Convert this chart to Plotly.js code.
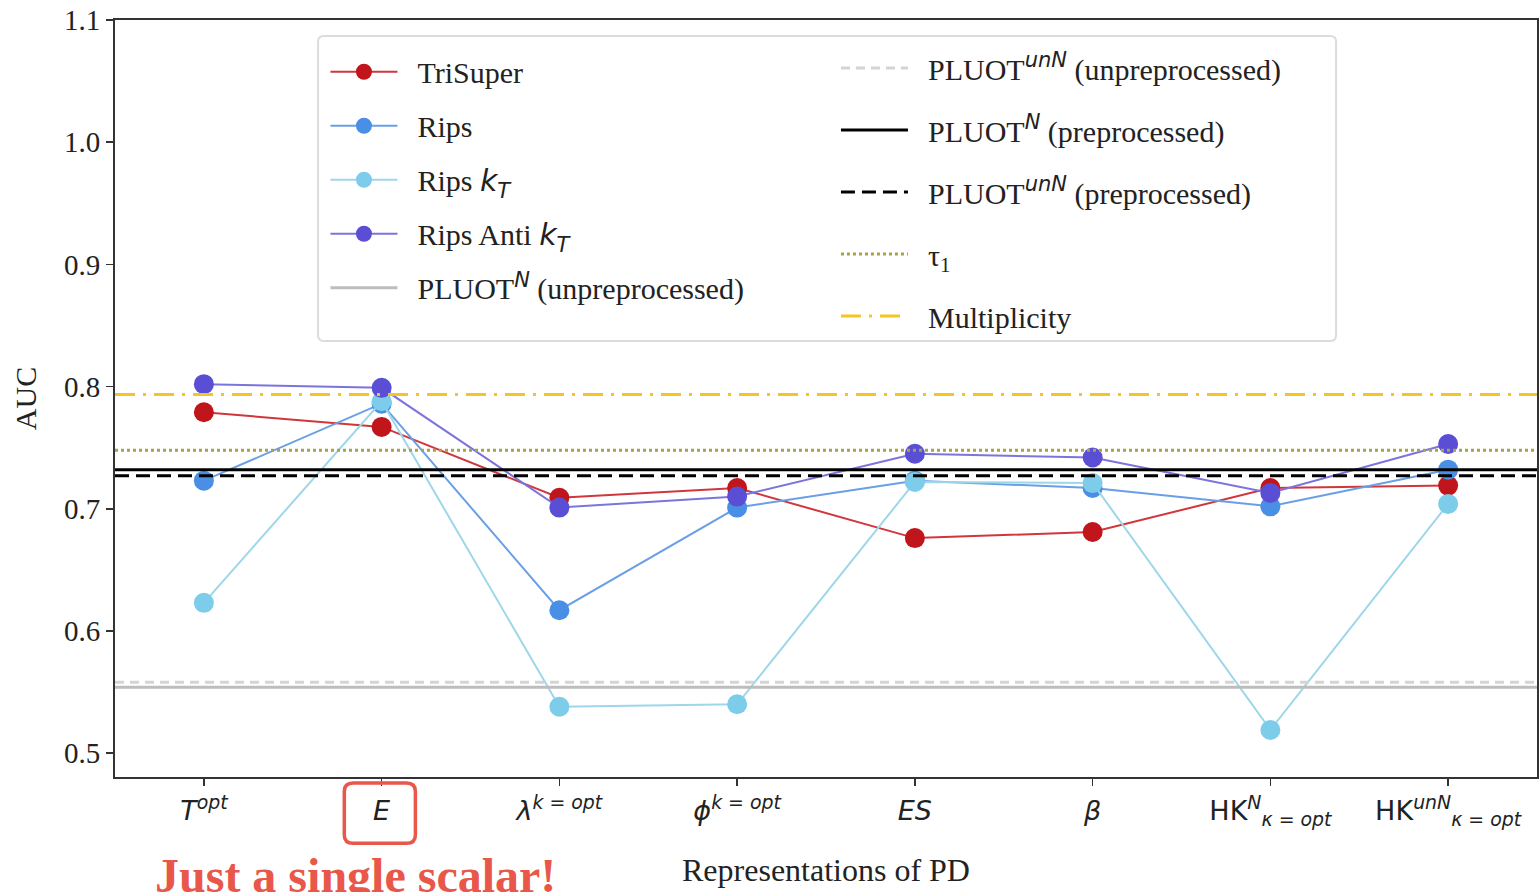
<!DOCTYPE html>
<html>
<head>
<meta charset="utf-8">
<script src="https://cdn.plot.ly/plotly-3.0.1.min.js"></script>
<style>html,body{margin:0;padding:0;background:#fff;}#chart{width:1540px;height:892px;}</style>
</head>
<body>
<div id="chart"></div>
<script>
var SANS = "DejaVu Sans";
var SERIF = "Liberation Serif";
function it(s){return "<span style='font-family:" + SANS + "'><i>" + s + "</i></span>";}
var GAP = "\u2002";

// Categories (representations of PD)
var categories = [
  it("T") + "<sup>" + it("opt") + "</sup>",
  it("E"),
  it("λ") + "<sup>" + it("k = opt") + "</sup>",
  it("ϕ") + "<sup>" + it("k = opt") + "</sup>",
  it("ES"),
  it("β"),
  "HK<sup>" + it("N") + "</sup><sub>" + it("κ = opt") + "</sub>",
  "HK<sup>" + it("unN") + "</sup><sub>" + it("κ = opt") + "</sub>"
];

// Series values (AUC)
var triSuper = [0.779, 0.767, 0.709, 0.717, 0.676, 0.681, 0.717, 0.719];
var rips     = [0.723, 0.786, 0.617, 0.701, 0.723, 0.717, 0.702, 0.732];
var ripsKT   = [0.623, 0.788, 0.538, 0.540, 0.722, 0.721, 0.519, 0.704];
var ripsAnti = [0.802, 0.799, 0.701, 0.710, 0.745, 0.742, 0.713, 0.753];

// Reference (horizontal) levels
var pluotN_unpre   = 0.554;
var pluotUnN_unpre = 0.558;
var pluotN_pre     = 0.732;
var pluotUnN_pre   = 0.727;
var tau1           = 0.748;
var multiplicity   = 0.7935;

var yTicks = [0.5, 0.6, 0.7, 0.8, 0.9, 1.0, 1.1];

var span = [-0.5, categories.length - 0.5];

function series(name, y, mcol, lcol){
  return {type:"scatter", mode:"lines+markers", name:GAP + name, x:categories, y:y,
    legend:"legend", legendgroup:name,
    line:{color:lcol, width:2}, marker:{color:mcol, size:20},
    cliponaxis:false};
}
function hline(name, v, col, w, dash, leg){
  return {type:"scatter", mode:"lines", name:GAP + name, xaxis:"x2", x:span, y:[v, v],
    legend:leg, legendgroup:name, line:{color:col, width:w, dash:dash}, hoverinfo:"skip"};
}

var data = [
  series("TriSuper", triSuper, "#c1151c", "#d0363b"),
  series("Rips", rips, "#4a8fe6", "#6a9fe6"),
  series("Rips " + it("k") + "<sub>" + it("T") + "</sub>", ripsKT, "#7dcdea", "#9ed6ea"),
  series("Rips Anti " + it("k") + "<sub>" + it("T") + "</sub>", ripsAnti, "#5a4fd4", "#7c74de"),
  hline("PLUOT<sup>" + it("N") + "</sup> (unpreprocessed)", pluotN_unpre, "#bdbdbd", 3, "solid", "legend"),
  hline("PLUOT<sup>" + it("unN") + "</sup> (unpreprocessed)", pluotUnN_unpre, "#d4d4d4", 3, "9px,6px", "legend2"),
  hline("PLUOT<sup>" + it("N") + "</sup> (preprocessed)", pluotN_pre, "#000000", 3, "solid", "legend2"),
  hline("PLUOT<sup>" + it("unN") + "</sup> (preprocessed)", pluotUnN_pre, "#000000", 3, "14px,7px", "legend2"),
  hline("τ<sub>1</sub>", tau1, "#a8a248", 3, "dot", "legend2"),
  hline("Multiplicity", multiplicity, "#f5c623", 3, "20px,8px,3px,8px", "legend2")
];

// rounded box around the "E" tick label (category index 1)
var bx0 = 0.79, bx1 = 1.19, by0 = -0.0875, by1 = -0.008, rx = 0.05, ry = 0.011;
var boxPath = "M" + (bx0+rx) + "," + by1 + " L" + (bx1-rx) + "," + by1 +
  " Q" + bx1 + "," + by1 + " " + bx1 + "," + (by1-ry) +
  " L" + bx1 + "," + (by0+ry) + " Q" + bx1 + "," + by0 + " " + (bx1-rx) + "," + by0 +
  " L" + (bx0+rx) + "," + by0 + " Q" + bx0 + "," + by0 + " " + bx0 + "," + (by0+ry) +
  " L" + bx0 + "," + (by1-ry) + " Q" + bx0 + "," + by1 + " " + (bx0+rx) + "," + by1 + " Z";

var lx0 = 0.1428, lx1 = 0.8587, ly0 = 0.576, ly1 = 0.979, lrx = 0.004, lry = 0.008;
var legPath = "M" + (lx0+lrx) + "," + ly1 + " L" + (lx1-lrx) + "," + ly1 +
  " Q" + lx1 + "," + ly1 + " " + lx1 + "," + (ly1-lry) +
  " L" + lx1 + "," + (ly0+lry) + " Q" + lx1 + "," + ly0 + " " + (lx1-lrx) + "," + ly0 +
  " L" + (lx0+lrx) + "," + ly0 + " Q" + lx0 + "," + ly0 + " " + lx0 + "," + (ly0+lry) +
  " L" + lx0 + "," + (ly1-lry) + " Q" + lx0 + "," + ly1 + " " + (lx0+lrx) + "," + ly1 + " Z";

var layout = {
  width:1540, height:892,
  margin:{l:115, r:3, t:20, b:115},
  paper_bgcolor:"#fff", plot_bgcolor:"#fff",
  font:{family:SERIF, color:"#222"},
  showlegend:true,
  xaxis:{type:"category", range:span, showgrid:false, zeroline:false,
    showline:true, linecolor:"#333", linewidth:2, mirror:true,
    ticks:"outside", ticklen:7, tickwidth:1.5, tickcolor:"#333",
    tickfont:{family:SANS, size:27, color:"#222"}, ticklabelstandoff:2,
    title:{text:"Representations of PD", font:{family:SERIF, size:32, color:"#222"}, standoff:30}},
  xaxis2:{overlaying:"x", range:span, visible:false, fixedrange:true},
  yaxis:{range:[0.4805, 1.1], tickvals:yTicks, tickformat:".1f", showgrid:false, zeroline:false,
    showline:true, linecolor:"#333", linewidth:2, mirror:true,
    ticks:"outside", ticklen:7, tickwidth:1.5, tickcolor:"#333",
    tickfont:{family:SERIF, size:29, color:"#222"},
    title:{text:"AUC", font:{family:SERIF, size:30, color:"#222"}, standoff:18}},
  legend:{x:0.148, y:0.966, xanchor:"left", yanchor:"top", bgcolor:"rgba(0,0,0,0)",
    borderwidth:0, font:{family:SERIF, size:30, color:"#222"}, tracegroupgap:12, itemwidth:67,
    traceorder:"grouped"},
  legend2:{x:0.507, y:0.971, xanchor:"left", yanchor:"top", bgcolor:"rgba(0,0,0,0)",
    borderwidth:0, font:{family:SERIF, size:30, color:"#222"}, tracegroupgap:20, itemwidth:67,
    traceorder:"grouped"},
  shapes:[
    {type:"path", xref:"paper", yref:"paper", path:legPath, line:{color:"#dcdcdc", width:2}, fillcolor:"rgba(255,255,255,0.85)", layer:"above"},
    {type:"path", xref:"x", yref:"paper", path:boxPath, line:{color:"#e8574a", width:3.5}}
  ],
  annotations:[
    {xref:"x", yref:"paper", x:0.853, y:-0.13, yanchor:"middle", xanchor:"center", showarrow:false,
     text:"<b>Just a single scalar!</b>", font:{family:SERIF, size:48, color:"#e8574a"}}
  ]
};

Plotly.newPlot("chart", data, layout, {displayModeBar:false, staticPlot:true});
</script>
</body>
</html>
